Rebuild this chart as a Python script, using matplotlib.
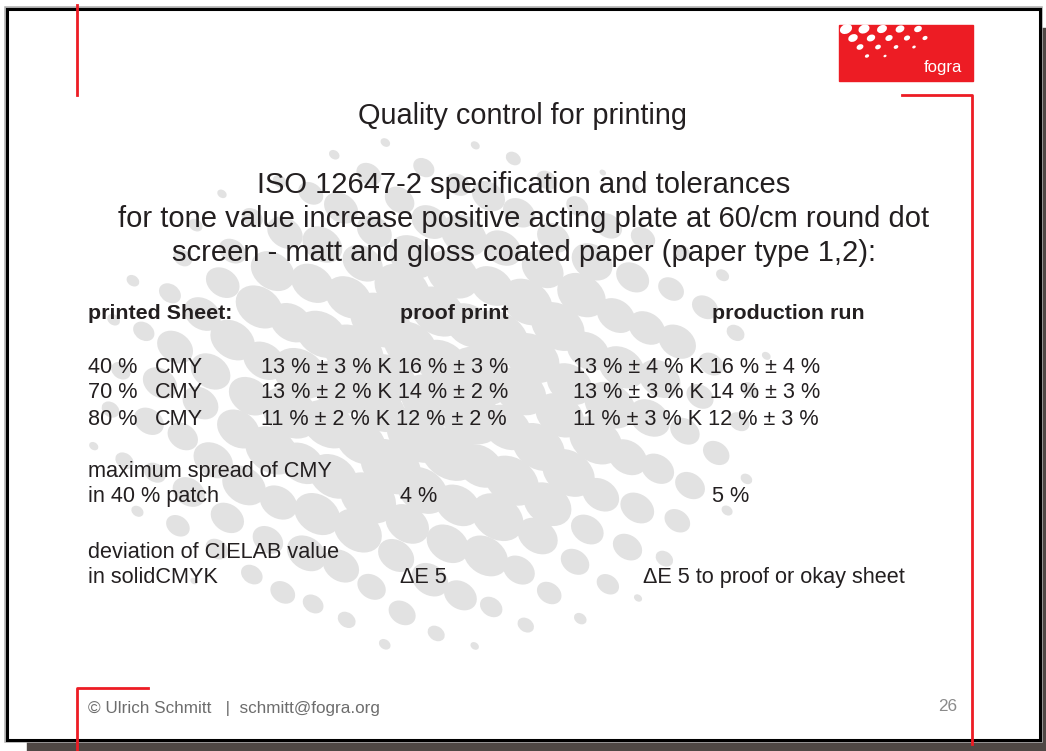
import numpy as np
import matplotlib
matplotlib.use("Agg")
import matplotlib.pyplot as plt
from matplotlib.patches import Rectangle, Ellipse

plt.rcParams['font.family'] = ['Liberation Sans', 'DejaVu Sans']

# ---------------- content ----------------
title = "Quality control for printing"
subtitle = ["ISO 12647-2 specification and tolerances",
            "for tone value increase positive acting plate at 60/cm round dot",
            "screen - matt and gloss coated paper (paper type 1,2):"]
headers = ["printed Sheet:", "proof print", "production run"]
tone_values = ["40 %", "70 %", "80 %"]
tone_inks = ["CMY", "CMY", "CMY"]
proof_cmy = [13, 13, 11]
proof_cmy_tol = [3, 2, 2]
proof_k = [16, 14, 12]
proof_k_tol = [3, 2, 2]
prod_cmy = [13, 13, 11]
prod_cmy_tol = [4, 3, 3]
prod_k = [16, 14, 12]
prod_k_tol = [4, 3, 3]
spread_label = ["maximum spread of CMY", "in 40 % patch"]
spread_values = ["4 %", "5 %"]
delta_label = ["deviation of CIELAB value", "in solidCMYK"]
delta_values = ["\u0394E 5", "\u0394E 5 to proof or okay sheet"]
footer = "\u00a9 Ulrich Schmitt   |  schmitt@fogra.org"
page_number = "26"

W, H = 1046, 751
fig = plt.figure(figsize=(W / 100, H / 100), dpi=100)
ax = fig.add_axes([0, 0, 1, 1])
ax.set_xlim(0, W)
ax.set_ylim(H, 0)
ax.axis('off')

RED = '#ed1c24'
TXT = '#231f20'
GRAY_BG = '#e2e2e2'

# shadow
ax.add_patch(Rectangle((1040, 28), 6, H - 28, color='#4f4845', zorder=1))
ax.add_patch(Rectangle((27, 740), W - 27, 11, color='#4f4845', zorder=1))
# slide
ax.add_patch(Rectangle((7, 9), 1033, 731, facecolor='white', edgecolor='#b0b0b0', lw=4.0, zorder=2))
ax.add_patch(Rectangle((7, 9), 1033, 731, facecolor='white', edgecolor='black', lw=2.2, zorder=3))

# background halftone decoration (dense grey with white holes, thinning outward)
cx, cy, R = 430, 395, 340
s = 40.0
ang = np.deg2rad(28)
for i in range(-14, 15):
    for j in range(-14, 15):
        x = cx + s * (i * np.cos(ang) - j * np.sin(ang))
        y = cy + s * (i * np.sin(ang) + j * np.cos(ang))
        x += 6 * np.sin(0.9 * i + 1.7 * j)
        y += 6 * np.cos(1.3 * i - 0.7 * j)
        d = np.hypot((x - cx) / 1.05, (y - cy) / 0.78)
        if d >= R:
            continue
        t = d / R
        r = s * 0.68 * (1 - t ** 2.0) ** 0.75
        r *= 1 + 0.12 * np.sin(2.1 * i + 0.6 * j)
        if r < 3:
            continue
        ax.add_patch(Ellipse((x, y), 2 * r * 1.15, 2 * r * 0.88, angle=35,
                             color=GRAY_BG, lw=0, zorder=4))

# red corner lines
lw_red = 2.0
ax.plot([77, 77], [5, 95], color=RED, lw=lw_red, zorder=6)
ax.plot([902, 972, 972], [95, 95, 744], color=RED, lw=lw_red, zorder=6)
ax.plot([148, 77, 77], [688, 688, 751], color=RED, lw=lw_red, zorder=6)

# logo
ax.add_patch(Rectangle((839, 25), 134, 56, color=RED, zorder=6))
for row in range(4):
    for col in range(5):
        x = 846 + col * 18 + row * 7
        y = 29 + row * 9
        rr = 5.5 - row * 1.2 - col * 0.5
        if rr > 1.2 and x < 930:
            ax.add_patch(Ellipse((x, y), 2.3 * rr, 1.7 * rr, angle=-25,
                                 color='white', lw=0, zorder=7))
ax.text(962, 72, "fogra", color='white', fontsize=12, ha='right',
        va='baseline', zorder=8)

# titles
ax.text(522, 124, title, fontsize=20.8, color=TXT, ha='center', va='baseline', zorder=10)
for k, line in enumerate(subtitle):
    ax.text(524, 193 + k * 34, line, fontsize=21, color=TXT, ha='center',
            va='baseline', zorder=10)

fs = 15.6
# headers
ax.text(88, 319, headers[0], fontsize=fs - 0.2, fontweight='bold', color=TXT, va='baseline', zorder=10)
ax.text(400, 319, headers[1], fontsize=fs - 0.2, fontweight='bold', color=TXT, va='baseline', zorder=10)
ax.text(712, 319, headers[2], fontsize=fs - 0.2, fontweight='bold', color=TXT, va='baseline', zorder=10)

row_y = [373, 398, 425]
for k in range(3):
    y = row_y[k]
    ax.text(88, y, tone_values[k], fontsize=fs, color=TXT, va='baseline', zorder=10)
    ax.text(155, y, tone_inks[k], fontsize=fs, color=TXT, va='baseline', zorder=10)
    ax.text(261, y, f"{proof_cmy[k]} % \u00b1 {proof_cmy_tol[k]} % K {proof_k[k]} % \u00b1 {proof_k_tol[k]} %",
            fontsize=fs, color=TXT, va='baseline', zorder=10)
    ax.text(573, y, f"{prod_cmy[k]} % \u00b1 {prod_cmy_tol[k]} % K {prod_k[k]} % \u00b1 {prod_k_tol[k]} %",
            fontsize=fs, color=TXT, va='baseline', zorder=10)

ax.text(88, 477, spread_label[0], fontsize=fs, color=TXT, va='baseline', zorder=10)
ax.text(88, 502, spread_label[1], fontsize=fs, color=TXT, va='baseline', zorder=10)
ax.text(400, 502, spread_values[0], fontsize=fs, color=TXT, va='baseline', zorder=10)
ax.text(712, 502, spread_values[1], fontsize=fs, color=TXT, va='baseline', zorder=10)

ax.text(88, 558, delta_label[0], fontsize=fs, color=TXT, va='baseline', zorder=10)
ax.text(88, 583, delta_label[1], fontsize=fs, color=TXT, va='baseline', zorder=10)
ax.text(400, 583, delta_values[0], fontsize=fs, color=TXT, va='baseline', zorder=10)
ax.text(643, 583, delta_values[1], fontsize=fs, color=TXT, va='baseline', zorder=10)

# footer
ax.text(88, 713, footer, fontsize=12.3, color='#6d6d6d', va='baseline', zorder=10)
ax.text(957, 711, page_number, fontsize=12.3, color='#8a8a8a', ha='right', va='baseline', zorder=10)

fig.savefig("out.png", dpi=100)
